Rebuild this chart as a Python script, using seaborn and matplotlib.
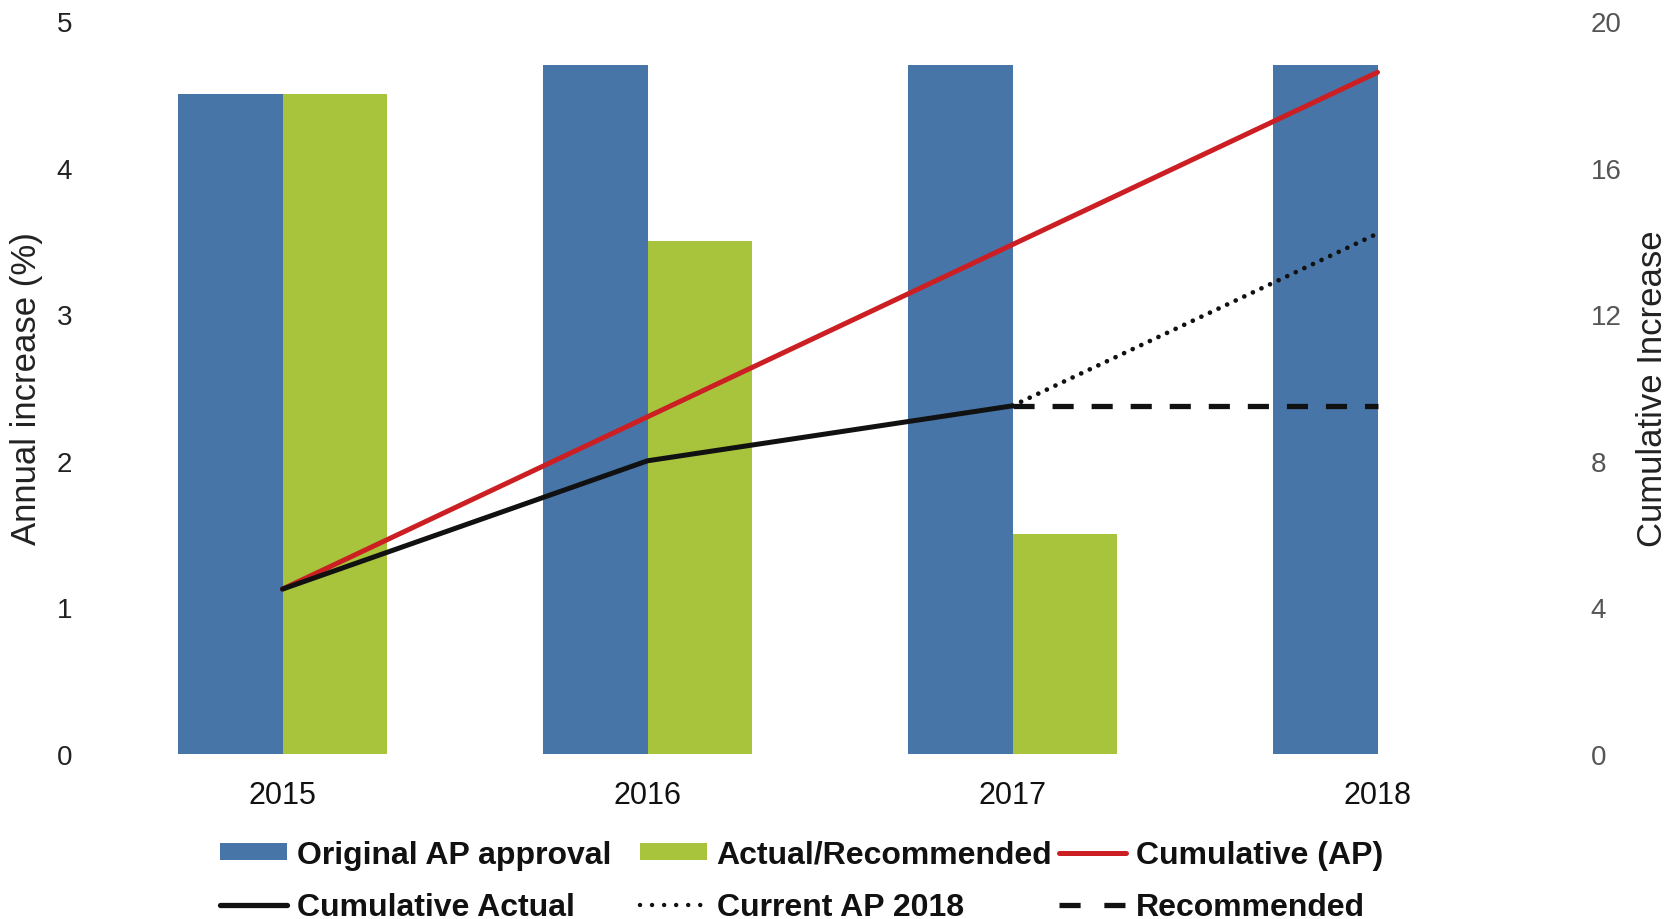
import numpy as np
import pandas as pd
import matplotlib
matplotlib.use("Agg")
import matplotlib.pyplot as plt
from matplotlib.lines import Line2D
from matplotlib.patches import Patch
import seaborn as sns

# ---- data -------------------------------------------------------------
years = ["2015", "2016", "2017", "2018"]
original_ap = [4.5, 4.7, 4.7, 4.7]          # Original AP approval (%)
actual_rec = [4.5, 3.5, 1.5, np.nan]        # Actual/Recommended (%)

cum_ap = [4.5, 9.2, 13.9, 18.6]             # Cumulative (AP)
cum_actual = [4.5, 8.0, 9.5]                # Cumulative Actual (2015-2017)
current_ap_2018 = [9.5, 14.2]               # Current AP 2018 (2017-2018)
recommended = [9.5, 9.5]                    # Recommended (2017-2018)

series_names = ["Original AP approval", "Actual/Recommended"]
line_names = ["Cumulative (AP)", "Cumulative Actual", "Current AP 2018", "Recommended"]

left_ticks = [0, 1, 2, 3, 4, 5]
right_ticks = [0, 4, 8, 12, 16, 20]

# ---- style ------------------------------------------------------------
BLUE = "#4775a8"
GREEN = "#a8c43c"
RED = "#cc1f24"
BLACK = "#111111"
DOTTED = (0, (0.01, 2.0))

sns.set_style("white")
plt.rcParams["font.family"] = ["Liberation Sans", "DejaVu Sans"]

fig = plt.figure(figsize=(16.77, 9.2), dpi=100)
ax = fig.add_axes([100 / 1677, 1 - 755 / 920, 1460 / 1677, (755 - 22) / 920])

bars = pd.DataFrame({
    "year": years * 2,
    "series": [series_names[0]] * 4 + [series_names[1]] * 4,
    "value": original_ap + actual_rec,
})
sns.barplot(data=bars, x="year", y="value", hue="series", order=years,
            hue_order=series_names, palette=[BLUE, GREEN], width=0.57,
            saturation=1, errorbar=None, legend=False, linewidth=0,
            edgecolor="none", ax=ax)

ax.set_xlim(-0.5, 3.5)
ax.set_ylim(0, 5)
ax.set_yticks(left_ticks)
ax.set_yticklabels([str(t) for t in left_ticks])
ax.set_xlabel("")
ax.set_ylabel("Annual increase (%)", fontsize=25, color="#222222")
ax.yaxis.label.set_va("center")
ax.yaxis.set_label_coords((27 - 100) / 1460, 0.5)
ax.tick_params(axis="y", length=0, pad=20, labelsize=20, labelcolor="#222222")
ax.tick_params(axis="x", length=0, pad=19, labelsize=22, labelcolor="#111111")
for s in ax.spines.values():
    s.set_visible(False)

# ---- cumulative lines on the secondary axis ----------------------------
ax2 = ax.twinx()
xpos = np.arange(len(years))
sns.lineplot(x=xpos, y=cum_ap, ax=ax2, color=RED, lw=3.6,
             solid_capstyle="round")
sns.lineplot(x=xpos[:3], y=cum_actual, ax=ax2, color=BLACK, lw=3.6,
             solid_capstyle="round")
sns.lineplot(x=xpos[2:], y=current_ap_2018, ax=ax2, color=BLACK, lw=3.4,
             linestyle=DOTTED, dash_capstyle="round")
sns.lineplot(x=xpos[2:], y=recommended, ax=ax2, color=BLACK, lw=3.8,
             linestyle=(0, (4, 3.4)))
ax2.set_ylim(0, 20)
ax2.set_yticks(right_ticks)
ax2.set_yticklabels([str(t) for t in right_ticks])
ax2.set_ylabel("Cumulative Increase", fontsize=25, color="#222222")
ax2.yaxis.label.set_va("center")
ax2.yaxis.set_label_coords((1652 - 100) / 1460, 0.5)
ax2.tick_params(axis="y", length=0, pad=22, labelsize=20, labelcolor="#555555")
for s in ax2.spines.values():
    s.set_visible(False)
ax2.grid(False)
ax.set_xlim(-0.5, 3.5)

# ---- legend: three columns of two entries ------------------------------
handles = {
    series_names[0]: Patch(facecolor=BLUE, edgecolor="none"),
    series_names[1]: Patch(facecolor=GREEN, edgecolor="none"),
    line_names[0]: Line2D([], [], color=RED, lw=3.6),
    line_names[1]: Line2D([], [], color=BLACK, lw=3.8),
    line_names[2]: Line2D([], [], color=BLACK, lw=3.2,
                          linestyle=(0, (0.01, 2.7)), dash_capstyle="round"),
    line_names[3]: Line2D([], [], color=BLACK, lw=3.8,
                          linestyle=(0, (4, 4.5))),
}
columns = [
    (220, [series_names[0], line_names[1]]),
    (640, [series_names[1], line_names[2]]),
    (1059, [line_names[0], line_names[3]]),
]
for xleft, names in columns:
    leg = fig.legend([handles[n] for n in names], names,
                     loc="center left",
                     bbox_to_anchor=(xleft / 1677, 1 - 882 / 920),
                     frameon=False, borderpad=0, borderaxespad=0,
                     handlelength=2.1, handleheight=0.45,
                     handletextpad=0.3, labelspacing=0.7,
                     prop={"family": ["Liberation Sans", "DejaVu Sans"],
                           "weight": "bold", "size": 23})
    for t in leg.get_texts():
        t.set_color("#111111")

fig.savefig("out.png", dpi=100)
